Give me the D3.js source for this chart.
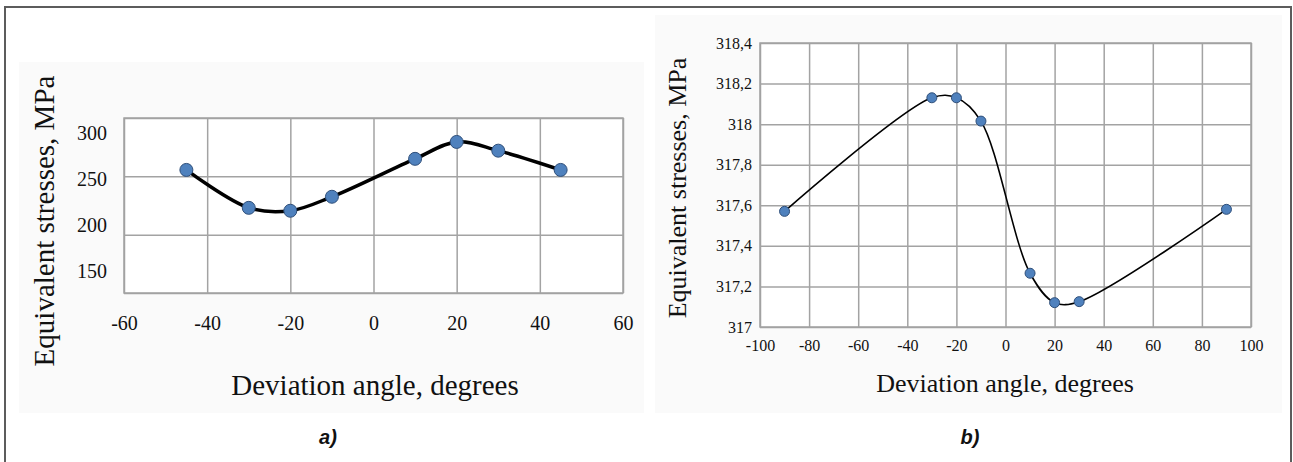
<!DOCTYPE html>
<html>
<head>
<meta charset="utf-8">
<script src="https://cdn.jsdelivr.net/npm/d3@7"></script>
<style>
body { margin: 0; background: #fff; }
text { font-family: "Liberation Serif", "Times New Roman", serif; fill: #111; }
.grid line { stroke: #a3a3a3; stroke-width: 1.5; }
.grid path { display: none; }
.lab path, .lab line { display: none; }
.cap { font-family: "Liberation Sans", Arial, sans-serif; font-weight: bold; font-style: italic; }
</style>
</head>
<body>
<svg id="fig"></svg>
<script>
// panel a)
var anglesA = [-45, -30, -20, -10, 10, 20, 30, 45];
var stressA = [255.5, 223, 220.5, 232.5, 265, 279.5, 272, 255.5];
var ticksXA = [-60, -40, -20, 0, 20, 40, 60];
var ticksYA = [150, 200, 250, 300];

// panel b)
var anglesB = [-90, -30, -20, -10, 10, 20, 30, 90];
var stressB = [317.57, 318.13, 318.13, 318.015, 317.265, 317.12, 317.125, 317.58];
var ticksXB = [-100, -80, -60, -40, -20, 0, 20, 40, 60, 80, 100];
var ticksYB = [317, 317.2, 317.4, 317.6, 317.8, 318, 318.2, 318.4];
var labelsYB = ["317", "317,2", "317,4", "317,6", "317,8", "318", "318,2", "318,4"];

var xTitle = "Deviation angle, degrees",
    yTitle = "Equivalent stresses, MPa";

var serif = '"Liberation Serif", "Times New Roman", serif';

var width = 1293,
    height = 462;

var svg = d3.select("#fig")
    .attr("width", width)
    .attr("height", height);

// light backgrounds of the pasted chart pictures
svg.append("rect").attr("x", 19).attr("y", 62).attr("width", 625).attr("height", 351).attr("fill", "#fafafa");
svg.append("rect").attr("x", 655).attr("y", 15).attr("width", 627).attr("height", 398).attr("fill", "#fafafa");

// outer frame
svg.append("path")
    .attr("d", "M5,470V7H1291V470")
    .attr("fill", "none")
    .attr("stroke", "#5c5c5c")
    .attr("stroke-width", 2);

function drawPanel(o) {
    var g = svg.append("g");
    var x = d3.scaleLinear().domain(o.xDomain).range([o.left, o.right]);
    var y = d3.scaleLinear().domain(o.yDomain).range([o.bottom, o.top]);
    // tick labels of the y axis may sit on their own spacing (as in the figure)
    var yLab = d3.scaleLinear().domain(o.yDomain).range(o.labRange || [o.bottom, o.top]);

    g.append("rect")
        .attr("x", o.left).attr("y", o.top)
        .attr("width", o.right - o.left).attr("height", o.bottom - o.top)
        .attr("fill", "#fff");

    g.append("g").attr("class", "grid")
        .attr("transform", "translate(0," + o.bottom + ")")
        .call(d3.axisBottom(x).tickValues(o.ticksX).tickSize(-(o.bottom - o.top)).tickFormat(""));

    g.append("g").attr("class", "grid")
        .attr("transform", "translate(" + o.left + ",0)")
        .call(d3.axisLeft(y).tickValues(o.ticksY).tickSize(-(o.right - o.left)).tickFormat(""));

    g.append("rect")
        .attr("x", o.left).attr("y", o.top)
        .attr("width", o.right - o.left).attr("height", o.bottom - o.top)
        .attr("fill", "none").attr("stroke", "#a3a3a3").attr("stroke-width", 1.5);

    var ax = g.append("g").attr("class", "lab")
        .attr("transform", "translate(0," + o.bottom + ")")
        .call(d3.axisBottom(x).tickValues(o.ticksX).tickSize(0).tickPadding(o.xPad)
            .tickFormat(function(d) { return String(d); }));

    var ay = g.append("g").attr("class", "lab")
        .attr("transform", "translate(" + o.left + ",0)")
        .call(d3.axisLeft(yLab).tickValues(o.ticksY).tickSize(0).tickPadding(o.yPad)
            .tickFormat(function(d, i) { return o.labelsY ? o.labelsY[i] : String(d); }));

    [ax, ay].forEach(function(a) {
        a.attr("font-family", serif).attr("font-size", o.tickSize);
        a.selectAll("text")
            .style("font-family", serif)
            .style("font-size", o.tickSize + "px")
            .attr("fill", "#111");
    });

    var line = d3.line()
        .x(function(d) { return x(d[0]); })
        .y(function(d) { return y(d[1]); })
        .curve(d3.curveCatmullRom.alpha(0.5));

    var pts = o.xs.map(function(d, i) { return [d, o.ys[i]]; });

    g.append("path")
        .attr("d", line(pts))
        .attr("fill", "none")
        .attr("stroke", "#000")
        .attr("stroke-width", o.lineW);

    g.selectAll("circle.pt")
        .data(pts)
        .enter().append("circle")
        .attr("class", "pt")
        .attr("cx", function(d) { return x(d[0]); })
        .attr("cy", function(d) { return y(d[1]); })
        .attr("r", o.r)
        .attr("fill", "#4f81bd")
        .attr("stroke", "#2f4f7a")
        .attr("stroke-width", 1);

    g.append("text")
        .attr("x", o.xTitle[0]).attr("y", o.xTitle[1])
        .attr("text-anchor", "middle")
        .style("font-size", o.titleSize + "px")
        .text(xTitle);

    g.append("text")
        .attr("transform", "translate(" + o.yTitle[0] + "," + o.yTitle[1] + ") rotate(-90)")
        .attr("text-anchor", "middle")
        .attr("dy", "0.35em")
        .style("font-size", o.titleSize + "px")
        .text(yTitle);

    g.append("text")
        .attr("class", "cap")
        .attr("x", o.cap[0]).attr("y", o.cap[1])
        .attr("text-anchor", "middle")
        .style("font-size", "20px")
        .text(o.capText);
}

drawPanel({
    xs: anglesA, ys: stressA,
    xDomain: [-60, 60], yDomain: [150, 300],
    ticksX: ticksXA, ticksY: ticksYA,
    left: 124, right: 623, top: 118, bottom: 293,
    labRange: [271, 133],
    xPad: 23, yPad: 17, tickSize: 20,
    lineW: 3.5, r: 6.5,
    titleSize: 29,
    xTitle: [375, 395], yTitle: [44, 221],
    cap: [328, 444], capText: "a)"
});

drawPanel({
    xs: anglesB, ys: stressB,
    xDomain: [-100, 100], yDomain: [317, 318.4],
    ticksX: ticksXB, ticksY: ticksYB, labelsY: labelsYB,
    left: 760, right: 1251, top: 43, bottom: 327,
    xPad: 13, yPad: 8, tickSize: 16,
    lineW: 1.6, r: 5,
    titleSize: 26,
    xTitle: [1005, 392], yTitle: [677, 188],
    cap: [970, 444], capText: "b)"
});
</script>
</body>
</html>
